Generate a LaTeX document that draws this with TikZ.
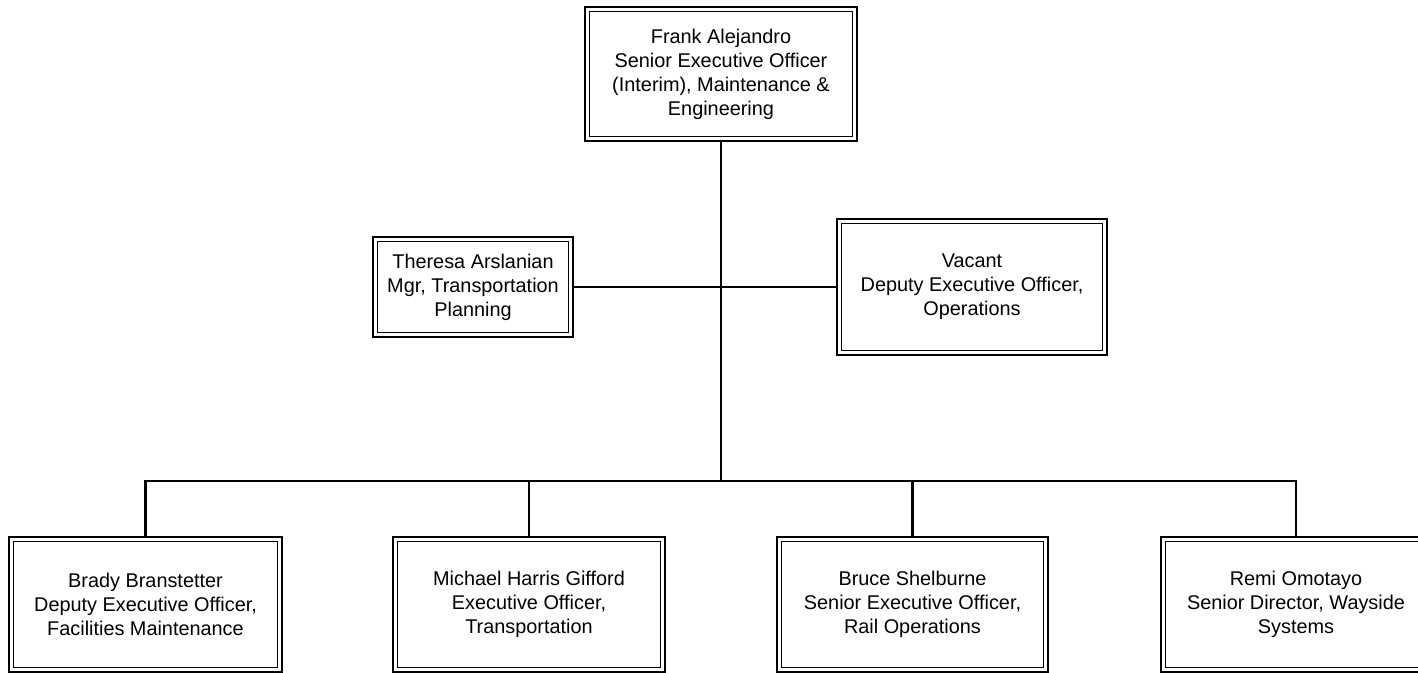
\documentclass[tikz,border=0pt]{standalone}
\usepackage{fontspec}
\setmainfont{Liberation Sans}
\begin{document}
\begin{tikzpicture}[x=0.75pt,y=-0.75pt,
  orgbox/.style={draw, line width=1.9pt, rectangle, align=center, inner sep=0pt,
    font=\fontsize{14.9}{18}\selectfont,
    path picture={\draw[line width=1.1pt]
      ([shift={(3.4pt,3.4pt)}]path picture bounding box.south west) rectangle
      ([shift={(-3.4pt,-3.4pt)}]path picture bounding box.north east);}},
  conn/.style={line width=1.8pt}]
\useasboundingbox (0,0) rectangle (1418,673);
\fill[white] (0,0) rectangle (1418,673);
\clip (0,0) rectangle (1418,673);

\node[orgbox, minimum width=204pt, minimum height=100.5pt] (top) at (721,74)
  {Frank Alejandro\\Senior Executive Officer\\(Interim), Maintenance \&\\Engineering};
\node[orgbox, minimum width=150pt, minimum height=75pt] (theresa) at (473,287)
  {Theresa Arslanian\\Mgr, Transportation\\Planning};
\node[orgbox, minimum width=202.5pt, minimum height=102pt] (vacant) at (972,287)
  {Vacant\\Deputy Executive Officer,\\Operations};

\node[orgbox, minimum width=204.5pt, minimum height=101pt] (b1) at (145.5,604.5)
  {Brady Branstetter\\Deputy Executive Officer,\\Facilities Maintenance};
\node[orgbox, minimum width=204pt, minimum height=101pt] (b2) at (529,604.5)
  {Michael Harris Gifford\\Executive Officer,\\Transportation};
\node[orgbox, minimum width=203pt, minimum height=101pt] (b3) at (912.5,604.5)
  {Bruce Shelburne\\Senior Executive Officer,\\Rail Operations};
\node[orgbox, minimum width=202.5pt, minimum height=101pt] (b4) at (1296,604.5)
  {Remi Omotayo\\Senior Director, Wayside\\Systems};

\coordinate (bus) at (721,481);

\draw[conn] (top.south) -- (bus);
\draw[conn] (theresa.east) -- (vacant.west);
\draw[conn] (b1.north) -- (b1.north |- bus) -- (b4.north |- bus) -- (b4.north);
\draw[conn] (b2.north) -- (b2.north |- bus);
\draw[conn] (b3.north) -- (b3.north |- bus);
\end{tikzpicture}
\end{document}
